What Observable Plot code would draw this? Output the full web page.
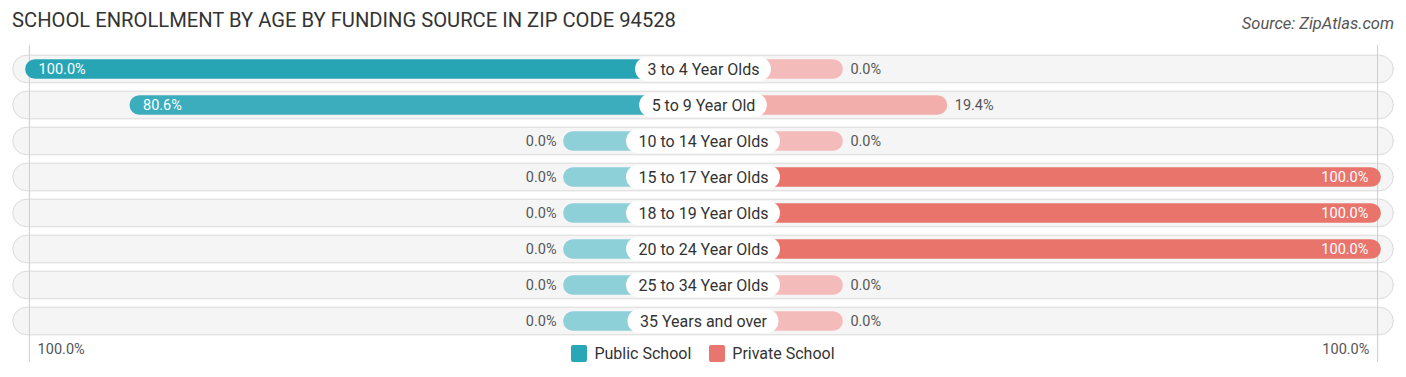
<!DOCTYPE html>
<html>
<head>
<meta charset="utf-8">
<script src="https://cdn.jsdelivr.net/npm/d3@7"></script>
<script src="https://cdn.jsdelivr.net/npm/@observablehq/plot@0.6"></script>
<style>
  html, body { margin: 0; padding: 0; background: #fff; }
  #wrap { position: relative; width: 1406px; height: 377px; font-family: Roboto, "Noto Sans", sans-serif; }
  #title { position: absolute; left: 12px; top: 8px; font-size: 20.2px; color: #333; letter-spacing: 0; }
  #source { position: absolute; right: 12px; top: 14px; font-size: 16.5px; font-style: italic; color: #555; }
  #chart { position: absolute; left: 0; top: 45px; }
  #legend { position: absolute; left: 0; top: 344px; width: 1406px; display: flex; justify-content: center; gap: 18px; font-size: 16px; color: #333; padding-left: 0px; box-sizing: border-box; }
  #legend span.item { display: inline-flex; align-items: center; gap: 7px; }
  #legend span.sw { display: inline-block; width: 16px; height: 17px; border-radius: 2px; }
</style>
</head>
<body>
<div id="wrap">
  <div id="title">SCHOOL ENROLLMENT BY AGE BY FUNDING SOURCE IN ZIP CODE 94528</div>
  <div id="source">Source: ZipAtlas.com</div>
  <div id="chart"></div>
  <div id="legend"></div>
</div>
<script>
const categories = ["3 to 4 Year Olds", "5 to 9 Year Old", "10 to 14 Year Olds", "15 to 17 Year Olds", "18 to 19 Year Olds", "20 to 24 Year Olds", "25 to 34 Year Olds", "35 Years and over"];
const publicValues = [100, 80.6, 0, 0, 0, 0, 0, 0];
const privateValues = [0, 19.4, 0, 100, 100, 100, 0, 0];
const seriesNames = ["Public School", "Private School"];
const seriesColors = ["#2aa7b7", "#e8766e"];
const axisLabels = ["100.0%", "100.0%"];

const STUB = 26;        // minimum visible bar length (in % units)
const FULL = 100;
const pxPerUnit = 5.38;
const half = 703 / pxPerUnit;

const pubColor = d3.interpolateRgb("#8dd0d8", "#27a5b5");
const privColor = d3.interpolateRgb("#f3bcba", "#e8746c");

const canvas = document.createElement("canvas");
const ctx = canvas.getContext("2d");
ctx.font = "16px Roboto";
const labelWidth = (s) => (ctx.measureText(s).width + 24) / pxPerUnit;

const rows = categories.map((c, i) => ({cat: c, pub: publicValues[i], priv: privateValues[i]}));
const fmt = (v) => v.toFixed(1) + "%";
const inside = (v) => v >= 30;
const VFS = 14.5;

const plot = Plot.plot({
  width: 1406,
  height: 332,
  marginLeft: 0, marginRight: 0, marginTop: 0, marginBottom: 0,
  style: {fontFamily: "Roboto, sans-serif", background: "transparent"},
  x: {domain: [-half, 1406 / pxPerUnit - half], axis: null},
  y: {domain: categories, range: [4.4, 294.7], padding: 0, axis: null},
  marks: [
    Plot.barX(rows, {y: "cat", x1: -(STUB + FULL + 2.3), x2: STUB + FULL + 2.3, fill: "#f5f5f5", stroke: "#dadada", strokeWidth: 1, rx: 14, insetTop: 4.2, insetBottom: 4.2}),
    Plot.ruleX([-(STUB + FULL - 0.7), STUB + FULL - 0.7], {stroke: "#ccc", strokeWidth: 1, insetBottom: 15}),
    Plot.barX(rows, {y: "cat", x1: 0, x2: d => -(STUB + d.pub), fill: d => pubColor(d.pub / 100), rx: 10, insetTop: 8.15, insetBottom: 8.15}),
    Plot.barX(rows, {y: "cat", x1: 0, x2: d => STUB + d.priv, fill: d => privColor(d.priv / 100), rx: 10, insetTop: 8.15, insetBottom: 8.15}),
    Plot.barX(rows, {y: "cat", x1: d => -labelWidth(d.cat) / 2, x2: d => labelWidth(d.cat) / 2, fill: "#fff", rx: 12, insetTop: 6, insetBottom: 6}),
    Plot.text(rows, {y: "cat", x: 0, text: "cat", fontSize: 16, fill: "#333"}),
    Plot.text(rows.filter(d => inside(d.pub)), {y: "cat", x: d => -(STUB + d.pub), text: d => fmt(d.pub), textAnchor: "start", dx: 13, fill: "#fff", fontSize: VFS}),
    Plot.text(rows.filter(d => !inside(d.pub)), {y: "cat", x: d => -(STUB + d.pub), text: d => fmt(d.pub), textAnchor: "end", dx: -7, fill: "#555", fontSize: VFS}),
    Plot.text(rows.filter(d => inside(d.priv)), {y: "cat", x: d => STUB + d.priv, text: d => fmt(d.priv), textAnchor: "end", dx: -13, fill: "#fff", fontSize: VFS}),
    Plot.text(rows.filter(d => !inside(d.priv)), {y: "cat", x: d => STUB + d.priv, text: d => fmt(d.priv), textAnchor: "start", dx: 7, fill: "#555", fontSize: VFS}),
    Plot.text([axisLabels[0]], {x: -(STUB + FULL), frameAnchor: "bottom", dy: -24, text: d => d, textAnchor: "start", dx: 12, fill: "#555", fontSize: VFS}),
    Plot.text([axisLabels[1]], {x: STUB + FULL, frameAnchor: "bottom", dy: -24, text: d => d, textAnchor: "end", dx: -12, fill: "#555", fontSize: VFS})
  ]
});
document.getElementById("chart").appendChild(plot);

const legend = document.getElementById("legend");
seriesNames.forEach((n, i) => {
  const item = document.createElement("span");
  item.className = "item";
  const sw = document.createElement("span");
  sw.className = "sw";
  sw.style.background = seriesColors[i];
  const t = document.createElement("span");
  t.textContent = n;
  item.appendChild(sw); item.appendChild(t);
  legend.appendChild(item);
});
</script>
</body>
</html>
